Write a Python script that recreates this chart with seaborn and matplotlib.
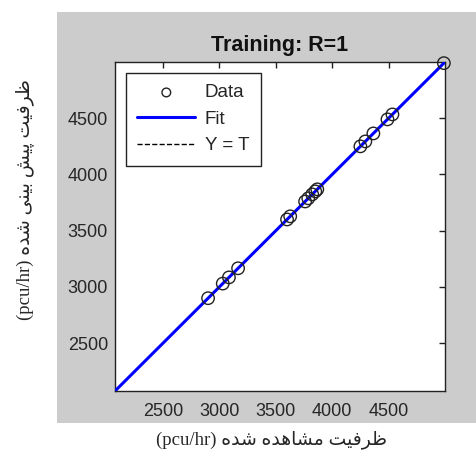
"""Regression plot (Training: R=1) in the MATLAB plotregression look."""

import matplotlib
matplotlib.use("Agg")
import matplotlib.pyplot as plt
import matplotlib.patches as mpatches
import numpy as np
import pandas as pd
import seaborn as sns

sns.set_theme(style="white")
plt.rcParams['font.family'] = ['Liberation Sans', 'DejaVu Sans']

observed = [2900, 3030, 3085, 3166, 3600, 3628, 3760, 3788, 3823, 3850, 3868,
            4250, 4294, 4365, 4490, 4534, 4990]
predicted = [2900, 3030, 3085, 3166, 3600, 3628, 3760, 3788, 3823, 3850, 3868,
             4250, 4294, 4365, 4490, 4534, 4990]
ticks = [2500, 3000, 3500, 4000, 4500]
lims = [2075, 5000]

# Persian labels in presentation forms, visual (left-to-right) order
xlabel_fa = "(pcu/hr) " + "\uFEE9\uFEAA\uFEB7" + " " + \
    "\uFEE9\uFEAA\uFEEB\uFE8E\uFEB8\uFEE3" + " " + "\uFE96\uFEF4\uFED3\uFEAE\uFEC7"
ylabel_fa = "(pcu/hr) " + "\uFEE9\uFEAA\uFEB7" + " " + \
    "\uFEF0\uFEE8\uFEF4\uFE91" + " " + "\uFEB6\uFEF4\uFB58" + " " + \
    "\uFE96\uFEF4\uFED3\uFEAE\uFEC7"

df = pd.DataFrame({"Target": observed, "Output": predicted})
slope, intercept = np.polyfit(df["Target"], df["Output"], 1)
fit_x = np.array(lims, dtype=float)
fit = pd.DataFrame({"x": fit_x, "y": slope * fit_x + intercept})
ident = pd.DataFrame({"x": fit_x, "y": fit_x})

W, H = 476, 462
fig = plt.figure(figsize=(W / 100, H / 100), dpi=100)
fig.patch.set_facecolor("white")
fig.patches.append(mpatches.Rectangle(
    (57 / W, (H - 423) / H), (W - 57) / W, (423 - 12) / H,
    transform=fig.transFigure, facecolor="#cccccc", edgecolor="none",
    zorder=-5))

ax = fig.add_axes([115 / W, (H - 391) / H, 330 / W, 329 / H])
ax.set_facecolor("white")

sns.lineplot(data=ident, x="x", y="y", color="black", linestyle="--",
             linewidth=1, label="Y = T", ax=ax, zorder=2)
sns.lineplot(data=fit, x="x", y="y", color="#0000ff", linewidth=2.2,
             label="Fit", ax=ax, zorder=3)
sns.scatterplot(data=df, x="Target", y="Output", marker="o", s=80,
                facecolor="none", edgecolor="#222222", linewidth=1.0,
                label="Data", ax=ax, zorder=4, clip_on=False)

ax.set_xlim(lims)
ax.set_ylim(lims)
ax.set_xticks(ticks)
ax.set_yticks(ticks)
ax.set_xlabel("")
ax.set_ylabel("")
ax.tick_params(direction="in", length=4, width=1, top=True, right=True,
               labelsize=13, labelcolor="#262626", color="#222222")
ax.tick_params(axis="x", pad=9)
ax.tick_params(axis="y", pad=5)
for s in ax.spines.values():
    s.set_color("#222222")
    s.set_linewidth(1)

ax.set_title("Training: R=1", fontsize=15.5, fontweight="bold",
             color="#111111", pad=8)

# legend order as in MATLAB: Data, Fit, Y = T
h, l = ax.get_legend_handles_labels()
order = [l.index("Data"), l.index("Fit"), l.index("Y = T")]
leg = ax.legend(
    [h[i] for i in order], [l[i] for i in order],
    loc="upper left", bbox_to_anchor=(11 / 330, 1 - 11 / 329),
    borderaxespad=0, fontsize=13.5, frameon=True, fancybox=False,
    framealpha=1, edgecolor="#222222", handlelength=3.1,
    handletextpad=0.5, borderpad=0.6, labelspacing=0.5, markerscale=0.7)
leg.get_frame().set_linewidth(1)

fig.text(272 / W, 1 - 440 / H, xlabel_fa, ha="center", va="center",
         fontsize=13.5, family=['Liberation Serif', 'DejaVu Sans'])
fig.text(25 / W, 1 - 200 / H, ylabel_fa, ha="center", va="center",
         rotation=90, fontsize=13.5, family=['Liberation Serif', 'DejaVu Sans'])

fig.savefig("out.png", dpi=100)
